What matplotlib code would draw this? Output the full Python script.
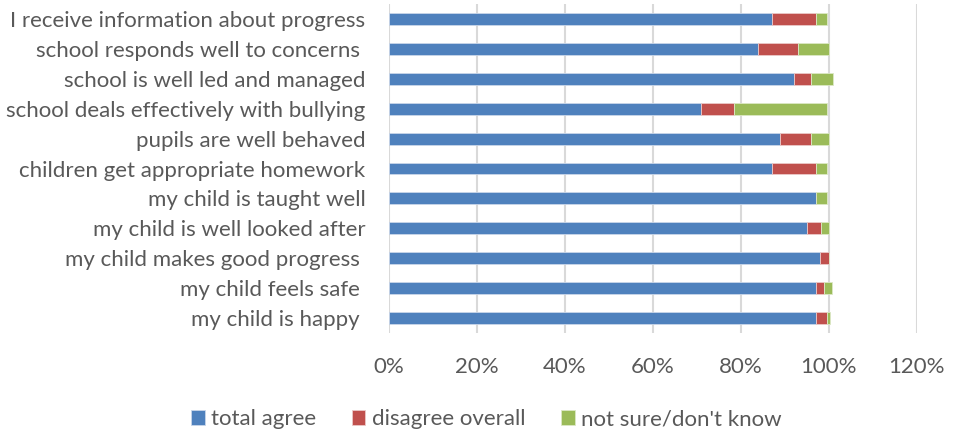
import numpy as np
import matplotlib
matplotlib.use("Agg")
import matplotlib.pyplot as plt
from matplotlib.ticker import PercentFormatter

# questions, top to bottom as in the chart
questions = ["I receive information about progress",
             "school responds well to concerns ",
             "school is well led and managed",
             "school deals effectively with bullying",
             "pupils are well behaved",
             "children get appropriate homework",
             "my child is taught well",
             "my child is well looked after",
             "my child makes good progress ",
             "my child feels safe ",
             "my child is happy "]
total_agree = [87, 84, 92, 71, 89, 87, 97, 95, 98, 97, 97]
disagree_overall = [10, 9, 4, 7.5, 7, 10, 0, 3.3, 2, 2, 2.5]
not_sure = [2.5, 7, 5, 21, 4, 2.5, 2.5, 1.7, 0, 1.7, 0.8]

grey = "#595959"
plt.rcParams['font.family'] = ['Lato', 'DejaVu Sans']

fig = plt.figure(figsize=(9.58, 4.30), dpi=100)
ax = fig.add_axes([0.406, 0.2256, 0.551, 0.765])

y = np.arange(len(questions))[::-1]
a = np.array(total_agree) / 100
d = np.array(disagree_overall) / 100
n = np.array(not_sure) / 100
h = 0.4
ax.barh(y, a, height=h, color="#4F81BD", edgecolor="#C9D6EA", linewidth=0.6, label="total agree", zorder=3)
ax.barh(y, d, left=a, height=h, color="#C0504D", edgecolor="#EBC9C8", linewidth=0.6, label="disagree overall", zorder=3)
ax.barh(y, n, left=a + d, height=h, color="#9BBB59", edgecolor="#DCE8C6", linewidth=0.6, label="not sure/don't know", zorder=3)

ax.set_xlim(0, 1.2)
ax.set_ylim(-0.5, len(questions) - 0.5)
ax.set_xticks(np.arange(0, 1.21, 0.2))
ax.xaxis.set_major_formatter(PercentFormatter(1.0, decimals=0))
ax.set_yticks(y)
ax.set_yticklabels(questions)
ax.grid(axis="x", color="#D9D9D9", linewidth=1.5, zorder=0)
for s in ax.spines.values():
    s.set_visible(False)
ax.tick_params(axis="both", length=0, labelsize=16, colors=grey)
ax.tick_params(axis="y", pad=17)
ax.tick_params(axis="x", pad=17)

fig.legend(loc="lower center", bbox_to_anchor=(0.508, -0.045), ncol=3, frameon=False,
           fontsize=16, labelcolor=grey, handlelength=0.6, handleheight=0.6,
           handletextpad=0.3, columnspacing=1.6)

fig.savefig("out.png", dpi=100)
